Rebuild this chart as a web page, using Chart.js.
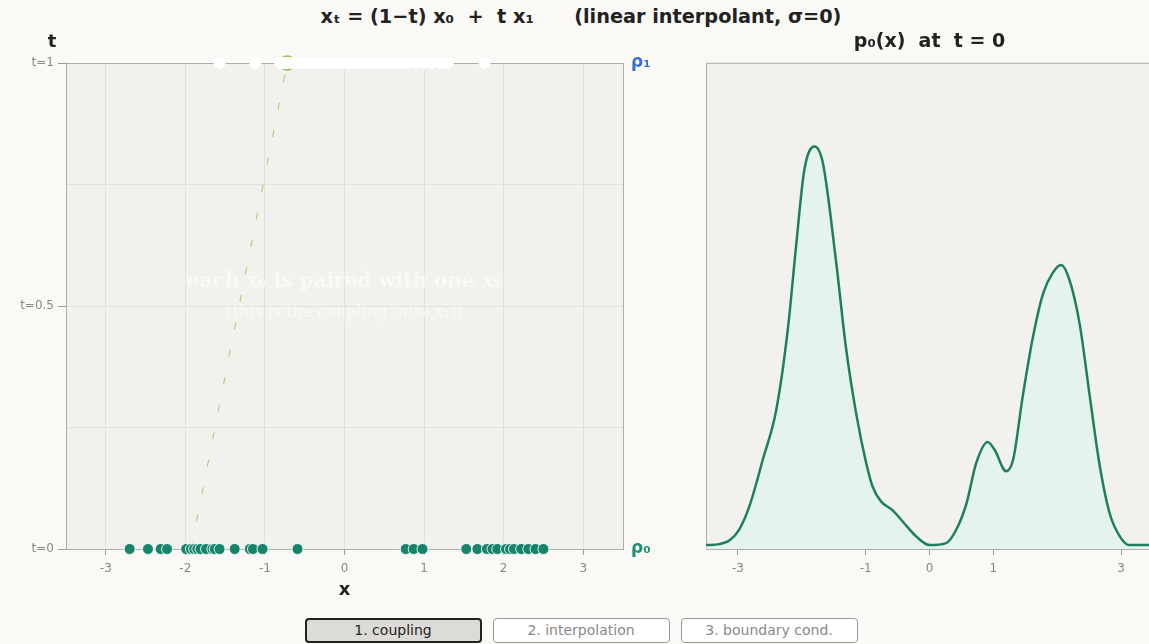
<!DOCTYPE html>
<html>
<head>
<meta charset="utf-8">
<script src="https://cdn.jsdelivr.net/npm/chart.js@4.4.1/dist/chart.umd.min.js"></script>
<style>
  html, body { margin: 0; padding: 0; background: #faf9f6; overflow: hidden; width: 1149px; height: 644px; }
  body { position: relative; font-family: "DejaVu Sans", sans-serif; }
  #title { position: absolute; left: 0; top: 5px; width: 1162px; text-align: center; font-weight: bold; font-size: 19.3px; color: #222; white-space: pre; }
  #left { position: absolute; left: 0; top: 0; }
  #right { position: absolute; left: 640px; top: 0; }
  #btns { position: absolute; left: 0; top: 618px; width: 1162px; display: flex; justify-content: center; gap: 11px; }
  .btn { width: 177px; height: 25px; box-sizing: border-box; border: 1px solid #999; border-radius: 4px; background: #fff; color: #888; font-size: 14px; line-height: 23px; text-align: center; }
  .btn.on { border: 2px solid #222; background: #dcdbd8; color: #222; line-height: 21px; }
</style>
</head>
<body>
<div id="title">xₜ = (1−t) x₀  +  t x₁      (linear interpolant, σ=0)</div>
<canvas id="left" width="680" height="605"></canvas>
<canvas id="right" width="520" height="605"></canvas>
<div id="btns">
  <div class="btn on">1. coupling</div>
  <div class="btn">2. interpolation</div>
  <div class="btn">3. boundary cond.</div>
</div>
<script>
// samples of rho0 (t=0) and rho1 (t=1)
var x0 = [-2.70, -2.47, -2.31, -2.23, -1.99, -1.93, -1.89, -1.85, -1.81, -1.74, -1.66, -1.63, -1.57, -1.38, -1.19, -1.15, -1.03, -0.59,
  0.77, 0.87, 0.98, 1.53, 1.67, 1.79, 1.86, 1.92, 2.03, 2.08, 2.13, 2.22, 2.31, 2.40, 2.50];
var x1 = [-1.57, -1.12, -0.81, -0.76, -0.70, -0.64, -0.58, -0.52, -0.46, -0.40, -0.34, -0.28, -0.22, -0.15, -0.08, -0.02,
  0.05, 0.12, 0.18, 0.25, 0.32, 0.40, 0.48, 0.56, 0.64, 0.72, 0.80, 0.90, 1.00, 1.10, 1.21, 1.30, 1.76];

// the one highlighted pair
var pairX0 = -1.93;
var pairX1 = -0.72;

// density p0(x)
var px = [-3.50, -3.29, -3.13, -2.98, -2.82, -2.61, -2.40, -2.22, -2.09, -1.96, -1.80, -1.67, -1.46, -1.31, -1.15, -0.99, -0.89, -0.76,
  -0.58, -0.39, -0.21, 0.00, 0.26, 0.42, 0.58, 0.73, 0.91, 1.02, 1.20, 1.31, 1.46, 1.62, 1.78, 1.93, 2.06, 2.19, 2.35, 2.51,
  2.66, 2.82, 2.98, 3.13, 3.43, 3.50];
var py = [0.004, 0.005, 0.009, 0.020, 0.044, 0.092, 0.143, 0.225, 0.311, 0.390, 0.414, 0.397, 0.294, 0.208, 0.140, 0.088, 0.064, 0.049,
  0.040, 0.026, 0.013, 0.004, 0.006, 0.020, 0.047, 0.088, 0.110, 0.102, 0.080, 0.092, 0.157, 0.218, 0.263, 0.284, 0.292, 0.277, 0.232, 0.157,
  0.088, 0.037, 0.013, 0.004, 0.004, 0.004];

var xTicksLeft = [-3, -2, -1, 0, 1, 2, 3];
var tTicks = [0, 0.25, 0.5, 0.75, 1];
var tLabels = { 0: 't=0', 0.5: 't=0.5', 1: 't=1' };
var xTicksRight = [-3, -1, 0, 1, 3];

var plotBg = {
  id: 'plotBg',
  beforeDraw: function (chart) {
    var a = chart.chartArea, ctx = chart.ctx;
    ctx.save();
    ctx.fillStyle = '#f2f1ee';
    ctx.fillRect(a.left, a.top, a.right - a.left, a.bottom - a.top);
    ctx.restore();
  },
  beforeDatasetsDraw: function (chart) {
    var a = chart.chartArea, ctx = chart.ctx;
    ctx.save();
    ctx.strokeStyle = '#adadad';
    ctx.lineWidth = 1;
    ctx.strokeRect(a.left + 0.5, a.top + 0.5, a.right - a.left, a.bottom - a.top);
    ctx.restore();
  }
};

var notes = {
  id: 'notes',
  afterDatasetsDraw: function (chart) {
    var ctx = chart.ctx, a = chart.chartArea;
    var xs = chart.scales.x, ys = chart.scales.y;
    ctx.save();
    ctx.textAlign = 'center';
    ctx.textBaseline = 'middle';
    ctx.fillStyle = '#222';
    ctx.font = 'bold 18px "DejaVu Sans"';
    ctx.fillText('t', a.left - 14, a.top - 21);
    ctx.fillStyle = 'rgba(255,255,255,0.55)';
    ctx.font = 'bold 20px "DejaVu Serif"';
    ctx.fillText('each x₀ is paired with one x₁', xs.getPixelForValue(0), ys.getPixelForValue(0.55));
    ctx.font = '16px "DejaVu Serif"';
    ctx.fillText('(this is the coupling  π(x₀,x₁))', xs.getPixelForValue(0), ys.getPixelForValue(0.486));
    ctx.restore();
  }
};

var leftChart = new Chart(document.getElementById('left'), {
  type: 'scatter',
  data: {
    datasets: [
      {
        label: 'x0',
        data: x0.map(function (v) { return { x: v, y: 0 }; }),
        backgroundColor: '#16836a',
        borderColor: 'rgba(255,255,255,0.85)',
        borderWidth: 1,
        pointRadius: 5.5,
        clip: false,
        order: 0
      },
      {
        label: 'x1',
        data: x1.map(function (v) { return { x: v, y: 1 }; }),
        backgroundColor: '#ffffff',
        borderColor: '#ffffff',
        borderWidth: 1,
        pointRadius: 5.5,
        clip: false,
        order: 1
      },
      {
        label: 'ring',
        data: [{ x: pairX1, y: 1 }],
        backgroundColor: '#ffffff',
        borderColor: '#8cc63f',
        borderWidth: 1.5,
        pointRadius: 7,
        clip: false,
        order: 2
      },
      {
        label: 'pair',
        type: 'line',
        data: [{ x: pairX0, y: 0 }, { x: pairX1, y: 1 }],
        borderColor: 'rgba(140,198,63,0.8)',
        borderWidth: 1,
        borderDash: [7, 21],
        pointRadius: 0,
        clip: false,
        order: 3
      }
    ]
  },
  options: {
    responsive: false,
    animation: false,
    layout: { padding: { top: 63, left: 0, right: 0, bottom: 0 } },
    plugins: { legend: { display: false }, tooltip: { enabled: false } },
    scales: {
      x: {
        type: 'linear', min: -3.5, max: 3.5,
        afterBuildTicks: function (s) { s.ticks = xTicksLeft.map(function (v) { return { value: v }; }); },
        afterFit: function (s) { s.height = 56; },
        grid: { color: '#e2e1dd', tickLength: 6, tickColor: '#999' },
        border: { color: '#adadad' },
        ticks: { color: '#888', font: { size: 12, family: 'DejaVu Sans' }, padding: 7 },
        title: { display: true, text: 'x', color: '#222', font: { size: 18, weight: 'bold', family: 'DejaVu Sans' }, padding: { top: 0, bottom: 4 } }
      },
      y: {
        type: 'linear', min: 0, max: 1,
        afterBuildTicks: function (s) { s.ticks = tTicks.map(function (v) { return { value: v }; }); },
        afterFit: function (s) { s.width = 66; },
        grid: {
          color: '#e2e1dd', tickLength: 8,
          tickColor: function (c) { return tLabels[c.tick.value] ? '#999' : 'rgba(0,0,0,0)'; }
        },
        border: { color: '#adadad' },
        ticks: {
          color: '#888', font: { size: 12, family: 'DejaVu Sans' }, padding: 4,
          callback: function (v) { return tLabels[v] || ''; }
        }
      },
      y2: {
        type: 'linear', position: 'right', min: 0, max: 1,
        afterBuildTicks: function (s) { s.ticks = [{ value: 0 }, { value: 1 }]; },
        afterFit: function (s) { s.width = 57; },
        grid: { display: false },
        border: { color: '#adadad' },
        ticks: {
          padding: 0,
          font: { size: 17, weight: 'bold', family: 'DejaVu Sans' },
          color: function (c) { return c.tick.value === 1 ? '#3b6fcf' : '#1b8f6f'; },
          callback: function (v) { return v === 1 ? 'ρ₁' : 'ρ₀'; }
        }
      }
    }
  },
  plugins: [plotBg, notes]
});

var rightChart = new Chart(document.getElementById('right'), {
  type: 'line',
  data: {
    labels: px,
    datasets: [{
      label: 'p0',
      data: px.map(function (v, i) { return { x: v, y: py[i] }; }),
      borderColor: '#1d7f60',
      borderWidth: 2.5,
      backgroundColor: 'rgba(222,245,237,0.7)',
      fill: 'origin',
      pointRadius: 0,
      cubicInterpolationMode: 'monotone'
    }]
  },
  options: {
    responsive: false,
    animation: false,
    layout: { padding: { top: 29, left: 66, right: 7, bottom: 0 } },
    plugins: {
      legend: { display: false },
      tooltip: { enabled: false },
      title: {
        display: true, text: 'p₀(x)  at  t = 0', color: '#222',
        font: { size: 19, weight: 'bold', family: 'DejaVu Sans' },
        padding: { top: 2, bottom: 9 }
      }
    },
    scales: {
      x: {
        type: 'linear', min: -3.5, max: 3.5,
        afterBuildTicks: function (s) { s.ticks = xTicksRight.map(function (v) { return { value: v }; }); },
        afterFit: function (s) { s.height = 56; },
        grid: { drawOnChartArea: false, tickLength: 6, tickColor: '#999' },
        border: { color: '#adadad' },
        ticks: { color: '#888', font: { size: 12, family: 'DejaVu Sans' }, padding: 7 }
      },
      y: { display: false, min: 0, max: 0.5 }
    }
  },
  plugins: [plotBg]
});
</script>
</body>
</html>
